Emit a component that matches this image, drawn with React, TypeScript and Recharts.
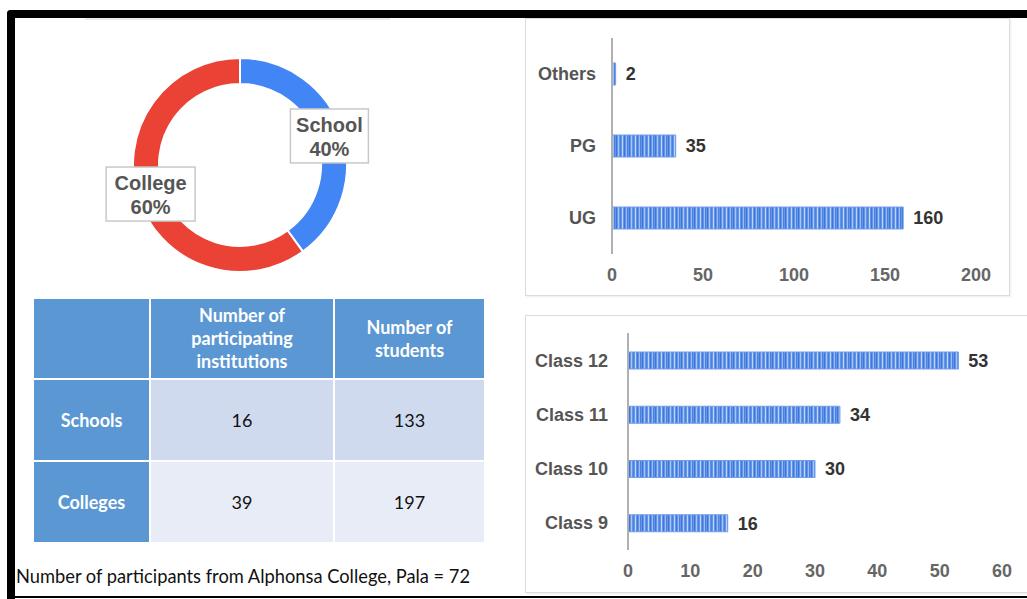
import React from "react";
import {
  PieChart,
  Pie,
  Cell,
  BarChart,
  Bar,
  XAxis,
  YAxis,
  LabelList,
} from "recharts";

// ---------- data ----------
const shareNames = ["School", "College"];
const shareValues = [40, 60];
const shareColors = ["#4285f4", "#ea4335"];

const levelNames = ["Others", "PG", "UG"];
const levelValues = [2, 35, 160];
const levelTicks = [0, 50, 100, 150, 200];

const classNames = ["Class 12", "Class 11", "Class 10", "Class 9"];
const classValues = [53, 34, 30, 16];
const classTicks = [0, 10, 20, 30, 40, 50, 60];

const tableHeaders = ["", "Number of participating institutions", "Number of students"];
const tableRowNames = ["Schools", "Colleges"];
const tableInstitutions = [16, 39];
const tableStudents = [133, 197];

const footnote = "Number of participants from Alphonsa College, Pala = 72";

const shareData = shareNames.map((n, i) => ({ name: n, value: shareValues[i] }));
const levelData = levelNames.map((n, i) => ({ name: n, value: levelValues[i] }));
const classData = classNames.map((n, i) => ({ name: n, value: classValues[i] }));

const FONT = "'Liberation Sans', Arial, sans-serif";
const TFONT = "Lato, 'Open Sans', sans-serif";

const StripeDefs = ({ id }: { id: string }) => (
  <defs>
    <pattern id={id} x="0" y="0" width="13" height="10" patternUnits="userSpaceOnUse">
      <rect x="0" y="0" width="13" height="10" fill="#6396e8" />
      <rect x="0" y="0" width="1" height="10" fill="#3f76dc" />
      <rect x="2" y="0" width="1" height="10" fill="#a9c7f6" />
      <rect x="4" y="0" width="1" height="10" fill="#4a80e0" />
      <rect x="6" y="0" width="1" height="10" fill="#c0d6f8" />
      <rect x="8" y="0" width="1" height="10" fill="#3f76dc" />
      <rect x="10" y="0" width="1" height="10" fill="#9dbdf2" />
      <rect x="11" y="0" width="1" height="10" fill="#4a80e0" />
    </pattern>
  </defs>
);

const DonutLabel = (props: any) => {
  const { cx, cy, midAngle, innerRadius, outerRadius, payload, percent } = props;
  const RAD = Math.PI / 180;
  const r = (innerRadius + outerRadius) / 2;
  const x = cx + r * Math.cos(-midAngle * RAD);
  const y = cy + r * Math.sin(-midAngle * RAD);
  const name = payload?.name ?? props.name;
  const pct = `${Math.round(percent * 100)}%`;
  const w = Math.max(name.length, pct.length) * 11 + 12;
  const h = 54;
  return (
    <g>
      <rect x={x - w / 2} y={y - h / 2} width={w} height={h} fill="#ffffff" stroke="#c8c8c8" strokeWidth={1.5} />
      <text x={x} y={y - 11} textAnchor="middle" dominantBaseline="central" fontFamily={FONT} fontSize={20} fontWeight={700} fill="#555">
        {name}
      </text>
      <text x={x} y={y + 13} textAnchor="middle" dominantBaseline="central" fontFamily={FONT} fontSize={20} fontWeight={700} fill="#555">
        {pct}
      </text>
    </g>
  );
};

const cellBase: React.CSSProperties = {
  border: "2px solid #ffffff",
  textAlign: "center",
  verticalAlign: "middle",
  padding: 0,
};

export default function App() {
  return (
    <div style={{ position: "absolute", left: 0, top: 0, width: 1027, height: 599, background: "#ffffff", overflow: "hidden" }}>
      {/* frame */}
      <div style={{ position: "absolute", left: 7, top: 10, width: 1040, height: 8, background: "#000", borderTopLeftRadius: 4 }} />
      <div style={{ position: "absolute", left: 7, top: 10, width: 8, height: 600, background: "#000", borderTopLeftRadius: 4 }} />
      <div style={{ position: "absolute", left: 7, top: 596, width: 1030, height: 2, background: "#000" }} />
      <div style={{ position: "absolute", left: 85, top: 18, width: 305, height: 2, background: "#ececec" }} />

      {/* donut */}
      <div style={{ position: "absolute", left: 0, top: 0 }}>
        <PieChart width={520} height={290}>
          <Pie
            data={shareData}
            dataKey="value"
            nameKey="name"
            cx={235}
            cy={160}
            innerRadius={81}
            outerRadius={107}
            startAngle={90}
            endAngle={-270}
            stroke="#ffffff"
            strokeWidth={2}
            label={DonutLabel}
            labelLine={false}
            isAnimationActive={false}
          >
            {shareData.map((d, i) => (
              <Cell key={d.name} fill={shareColors[i]} />
            ))}
          </Pie>
        </PieChart>
      </div>

      {/* table */}
      <table
        style={{
          position: "absolute",
          left: 32,
          top: 297,
          width: 452,
          height: 246,
          borderCollapse: "collapse",
          tableLayout: "fixed",
          fontFamily: TFONT,
          fontSize: 18,
        }}
      >
        <colgroup>
          <col style={{ width: 117 }} />
          <col style={{ width: 184 }} />
          <col style={{ width: 151 }} />
        </colgroup>
        <tbody>
          <tr style={{ height: 81 }}>
            {tableHeaders.map((h, i) => (
              <td
                key={i}
                style={{
                  ...cellBase,
                  background: "#5b97d3",
                  color: "#ffffff",
                  fontWeight: 700,
                  lineHeight: "23px",
                  padding: i === 1 ? "0 26px" : "0 20px",
                }}
              >
                {h}
              </td>
            ))}
          </tr>
          {tableRowNames.map((r, ri) => (
            <tr key={r} style={{ height: 82 }}>
              <td style={{ ...cellBase, background: "#5b97d3", color: "#fff", fontWeight: 700 }}>{r}</td>
              <td style={{ ...cellBase, background: ri === 0 ? "#d0daee" : "#e8ecf6", color: "#111" }}>
                {tableInstitutions[ri]}
              </td>
              <td style={{ ...cellBase, background: ri === 0 ? "#d0daee" : "#e8ecf6", color: "#111" }}>
                {tableStudents[ri]}
              </td>
            </tr>
          ))}
        </tbody>
      </table>

      <div
        style={{
          position: "absolute",
          left: 16,
          top: 565,
          fontFamily: TFONT,
          fontSize: 18.3,
          lineHeight: "22px",
          color: "#111",
          whiteSpace: "nowrap",
        }}
      >
        {footnote}
      </div>

      {/* top-right bar chart */}
      <div
        style={{
          position: "absolute",
          left: 525,
          top: 18,
          width: 485,
          height: 278,
          border: "1px solid #dcdcdc",
          boxShadow: "1px 1px 2px rgba(0,0,0,0.08)",
          boxSizing: "border-box",
        }}
      />
      <div style={{ position: "absolute", left: 525, top: 18 }}>
        <BarChart
          width={486}
          height={279}
          data={levelData}
          layout="vertical"
          margin={{ top: 20, right: 35, bottom: 13, left: 0 }}
        >
          <StripeDefs id="stripeA" />
          <XAxis
            type="number"
            domain={[0, 200]}
            ticks={levelTicks}
            axisLine={false}
            tickLine={false}
            height={30}
            tickMargin={8}
            tick={{ fontFamily: FONT, fontSize: 18, fontWeight: 700, fill: "#666" }}
          />
          <YAxis
            type="category"
            dataKey="name"
            width={87}
            axisLine={{ stroke: "#b0b0b0", strokeWidth: 2 }}
            tickLine={false}
            tickMargin={10}
            tick={{ fontFamily: FONT, fontSize: 18, fontWeight: 700, fill: "#555" }}
          />
          <Bar dataKey="value" barSize={22} fill="url(#stripeA)" stroke="#6f9de8" strokeWidth={1} isAnimationActive={false}>
            <LabelList
              dataKey="value"
              position="right"
              offset={10}
              style={{ fontFamily: FONT, fontSize: 18, fontWeight: 700, fill: "#333" }}
            />
          </Bar>
        </BarChart>
      </div>

      {/* bottom-right bar chart */}
      <div
        style={{
          position: "absolute",
          left: 525,
          top: 315,
          width: 520,
          height: 278,
          border: "1px solid #dcdcdc",
          boxShadow: "1px 1px 2px rgba(0,0,0,0.08)",
          boxSizing: "border-box",
        }}
      />
      <div style={{ position: "absolute", left: 525, top: 315 }}>
        <BarChart
          width={502}
          height={280}
          data={classData}
          layout="vertical"
          margin={{ top: 18, right: 25, bottom: 15, left: 0 }}
        >
          <StripeDefs id="stripeB" />
          <XAxis
            type="number"
            domain={[0, 60]}
            ticks={classTicks}
            axisLine={false}
            tickLine={false}
            height={30}
            tickMargin={8}
            tick={{ fontFamily: FONT, fontSize: 18, fontWeight: 700, fill: "#666" }}
          />
          <YAxis
            type="category"
            dataKey="name"
            width={103}
            axisLine={{ stroke: "#b0b0b0", strokeWidth: 2 }}
            tickLine={false}
            tickMargin={14}
            tick={{ fontFamily: FONT, fontSize: 18, fontWeight: 700, fill: "#555" }}
          />
          <Bar dataKey="value" barSize={17} fill="url(#stripeB)" stroke="#6f9de8" strokeWidth={1} isAnimationActive={false}>
            <LabelList
              dataKey="value"
              position="right"
              offset={10}
              style={{ fontFamily: FONT, fontSize: 18, fontWeight: 700, fill: "#333" }}
            />
          </Bar>
        </BarChart>
      </div>
    </div>
  );
}
